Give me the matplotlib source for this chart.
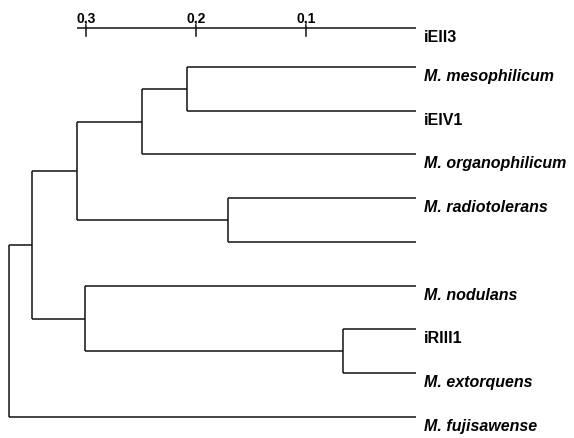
import matplotlib
matplotlib.use("Agg")
import matplotlib.pyplot as plt
from matplotlib.transforms import offset_copy

plt.rcParams['font.family'] = ['Liberation Sans', 'DejaVu Sans']

# leaves, top to bottom ("" = unlabelled leaf)
leaves = ["M. mesophilicum", "iEIV1", "M. organophilicum", "M. radiotolerans", "",
          "M. nodulans", "iRIII1", "M. extorquens", "M. fujisawense"]
italic = [True, False, True, True, False, True, False, True, True]

# merges like a linkage table: (child a, child b, distance); new nodes numbered from 9
merges = [(0, 1, 0.208), (9, 2, 0.249), (3, 4, 0.171), (10, 11, 0.308),
          (6, 7, 0.066), (5, 13, 0.301), (12, 14, 0.349), (15, 8, 0.370)]

scale_ticks = [0.3, 0.2, 0.1]
scale_labels = ["0,3", "0,2", "0,1"]
scale_len = 0.308
scale_name = "iEII3"

fig = plt.figure(figsize=(5.74, 4.39), dpi=100)
ax = fig.add_axes([0, 0, 1, 1])
ax.set_xlim(0.3782, -0.1436)
ax.set_ylim(8.48, -1.554)
ax.axis('off')

lc = '#111111'
lw = 1.1

ypos = {i: float(i) for i in range(len(leaves))}
height = {i: 0.0 for i in range(len(leaves))}
for k, (a, b, h) in enumerate(merges):
    node = len(leaves) + k
    ax.plot([h, h], [ypos[a], ypos[b]], color=lc, lw=lw, solid_capstyle='butt')
    for c in (a, b):
        ax.plot([height[c], h], [ypos[c], ypos[c]], color=lc, lw=lw, solid_capstyle='butt')
    ypos[node] = (ypos[a] + ypos[b]) / 2
    height[node] = h

lab_tr = offset_copy(ax.transData, fig=fig, x=8, y=-13, units='dots')
for i, name in enumerate(leaves):
    ax.text(0, i, name, transform=lab_tr, fontsize=11.5, fontweight='bold',
            fontstyle='italic' if italic[i] else 'normal', ha='left', va='baseline')

# scale bar
sy = -0.891
ax.plot([scale_len, 0], [sy, sy], color=lc, lw=lw, solid_capstyle='butt')
for t in scale_ticks:
    ax.plot([t, t], [sy - 0.046, sy + 0.183], color=lc, lw=lw)
tick_tr = offset_copy(ax.transData, fig=fig, x=0, y=7, units='dots')
for t, s in zip(scale_ticks, scale_labels):
    ax.text(t, sy, s, transform=tick_tr, fontsize=10, fontweight='bold',
            ha='center', va='baseline')
ax.text(0, sy, scale_name, transform=lab_tr, fontsize=11.5, fontweight='bold',
        ha='left', va='baseline')

fig.savefig("out.png", dpi=100)
